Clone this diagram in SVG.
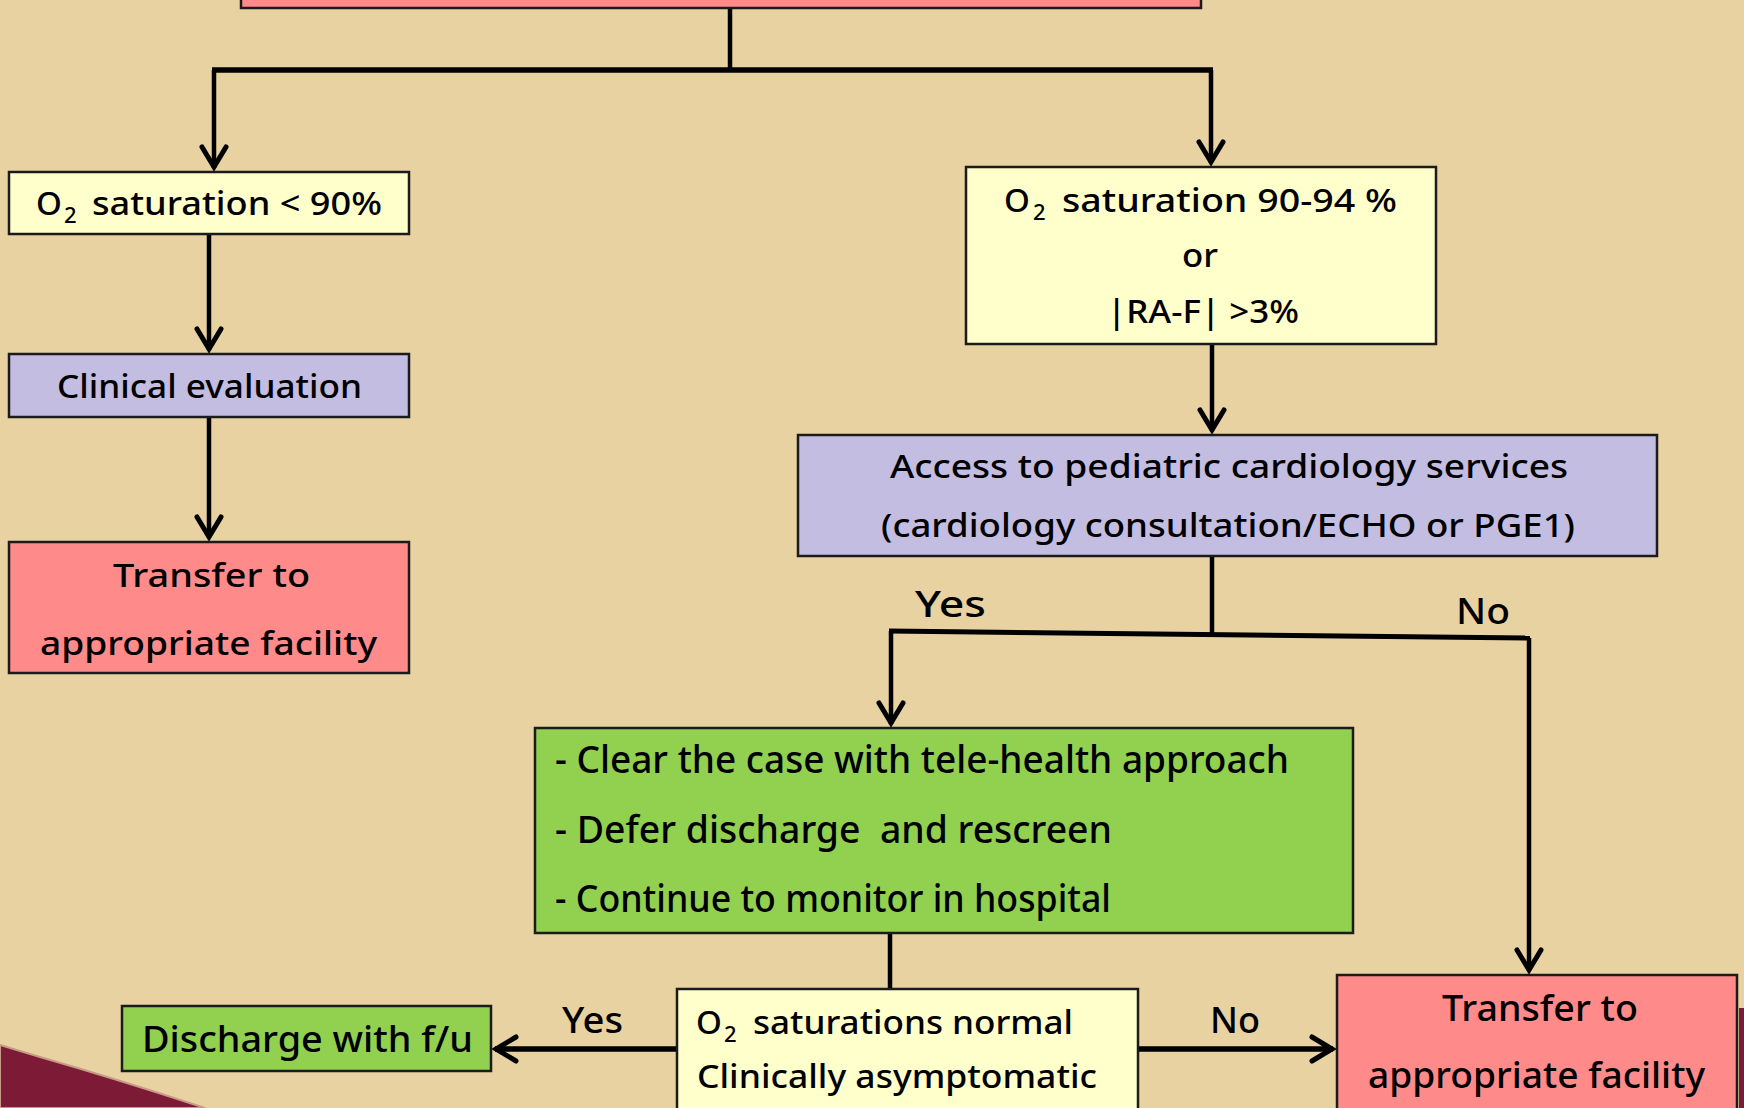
<svg xmlns="http://www.w3.org/2000/svg" width="1744" height="1108" viewBox="0 0 1744 1108">
<defs>
<style>
.bg{fill:#E8D2A2}
.box{stroke:#1b1b1b;stroke-width:2.5}
.pink{fill:#FF8A8A}
.yel{fill:#FFFFCC}
.lav{fill:#C3BDE1}
.grn{fill:#92D050}
text{font-family:"Comic Sans MS","Noto Sans","DejaVu Sans",sans-serif;fill:#000;font-size:33px;font-weight:500}
.sub{font-size:22px}
.lbl{font-size:36px}
.big{font-size:38px}
.c{stroke:#000;stroke-width:4.5;fill:none}
</style>
<marker id="arr" markerUnits="userSpaceOnUse" markerWidth="40" markerHeight="40" viewBox="-30 -20 40 40" refX="0" refY="0" orient="auto">
<path d="M-21,-12 L-1,0 L-21,12" fill="none" stroke="#000" stroke-width="5" stroke-linejoin="miter" stroke-linecap="round"/>
</marker>
</defs>
<rect class="bg" x="0" y="0" width="1744" height="1108"/>
<path d="M0,1045 L40,1057 Q120,1080 205,1108 L0,1108 Z" fill="#7D1A36" stroke="#C79A85" stroke-width="2"/>
<rect x="1739" y="1008" width="5" height="100" fill="#7D1A36"/>

<g id="connectors">
<path class="c" d="M730,8 V70"/>
<path class="c" d="M212,70 H1213" style="stroke-width:5.5"/>
<path class="c" d="M214,70 V168" marker-end="url(#arr)"/>
<path class="c" d="M1211,70 V163" marker-end="url(#arr)"/>
<path class="c" d="M209,234 V350" marker-end="url(#arr)"/>
<path class="c" d="M209,417 V538" marker-end="url(#arr)"/>
<path class="c" d="M1212,344 V431" marker-end="url(#arr)"/>
<path class="c" d="M1212,556 V634"/>
<path class="c" d="M889,631 L1530,638" style="stroke-width:5"/>
<path class="c" d="M891,631 V724" marker-end="url(#arr)"/>
<path class="c" d="M1529,638 V971" marker-end="url(#arr)"/>
<path class="c" d="M890,933 V989"/>
<path class="c" d="M677,1049 H495" marker-end="url(#arr)" style="stroke-width:5.5"/>
<path class="c" d="M1138,1049 H1333" marker-end="url(#arr)" style="stroke-width:5.5"/>
<text class="lbl" x="915" y="617" textLength="71" lengthAdjust="spacingAndGlyphs">Yes</text>
<text class="lbl" x="1456" y="624" textLength="54" lengthAdjust="spacingAndGlyphs">No</text>
<text class="lbl" x="562" y="1033" textLength="61" lengthAdjust="spacingAndGlyphs">Yes</text>
<text class="lbl" x="1210" y="1033" textLength="50" lengthAdjust="spacingAndGlyphs">No</text>
</g>

<g id="node-top">
<rect class="box pink" x="241" y="-10" width="960" height="18"/>
</g>

<g id="node-sat-low">
<rect class="box yel" x="9" y="172" width="400" height="62"/>
<text x="36" y="215">O</text>
<text class="sub" x="64" y="223">2</text>
<text x="92" y="215" textLength="290" lengthAdjust="spacingAndGlyphs">saturation &lt; 90%</text>
</g>

<g id="node-clinical">
<rect class="box lav" x="9" y="354" width="400" height="63"/>
<text x="57" y="398" textLength="305" lengthAdjust="spacingAndGlyphs">Clinical evaluation</text>
</g>

<g id="node-transfer-left">
<rect class="box pink" x="9" y="542" width="400" height="131"/>
<text x="113" y="587" textLength="197" lengthAdjust="spacingAndGlyphs">Transfer to</text>
<text x="40" y="655" textLength="337" lengthAdjust="spacingAndGlyphs">appropriate facility</text>
</g>

<g id="node-sat-mid">
<rect class="box yel" x="966" y="167" width="470" height="177"/>
<text x="1004" y="212">O</text>
<text class="sub" x="1033" y="220">2</text>
<text x="1062" y="212" textLength="335" lengthAdjust="spacingAndGlyphs">saturation 90-94 %</text>
<text x="1182" y="267" textLength="36" lengthAdjust="spacingAndGlyphs">or</text>
<text x="1107" y="323" textLength="192" lengthAdjust="spacingAndGlyphs">|RA-F| &gt;3%</text>
</g>

<g id="node-access">
<rect class="box lav" x="798" y="435" width="859" height="121"/>
<text x="890" y="478" textLength="678" lengthAdjust="spacingAndGlyphs">Access to pediatric cardiology services</text>
<text x="881" y="537" textLength="694" lengthAdjust="spacingAndGlyphs">(cardiology consultation/ECHO or PGE1)</text>
</g>

<g id="node-actions">
<rect class="box grn" x="535" y="728" width="818" height="205"/>
<text class="big" x="555" y="773" textLength="734" lengthAdjust="spacingAndGlyphs">- Clear the case with tele-health approach</text>
<text class="big" x="555" y="843" textLength="557" lengthAdjust="spacingAndGlyphs" style="white-space:pre">- Defer discharge  and rescreen</text>
<text class="big" x="555" y="912" textLength="556" lengthAdjust="spacingAndGlyphs">- Continue to monitor in hospital</text>
</g>

<g id="node-discharge">
<rect class="box grn" x="122" y="1006" width="369" height="65"/>
<text class="lbl" x="142" y="1052" textLength="331" lengthAdjust="spacingAndGlyphs">Discharge with f/u</text>
</g>

<g id="node-sat-normal">
<rect class="box yel" x="677" y="989" width="461" height="130"/>
<text x="696" y="1034">O</text>
<text class="sub" x="724" y="1042">2</text>
<text x="753" y="1034" textLength="320" lengthAdjust="spacingAndGlyphs">saturations normal</text>
<text x="697" y="1088" textLength="400" lengthAdjust="spacingAndGlyphs">Clinically asymptomatic</text>
</g>

<g id="node-transfer-right">
<rect class="box pink" x="1337" y="975" width="400" height="145"/>
<text class="lbl" x="1442" y="1021" textLength="196" lengthAdjust="spacingAndGlyphs">Transfer to</text>
<text class="lbl" x="1368" y="1088" textLength="337" lengthAdjust="spacingAndGlyphs">appropriate facility</text>
</g>
</svg>
